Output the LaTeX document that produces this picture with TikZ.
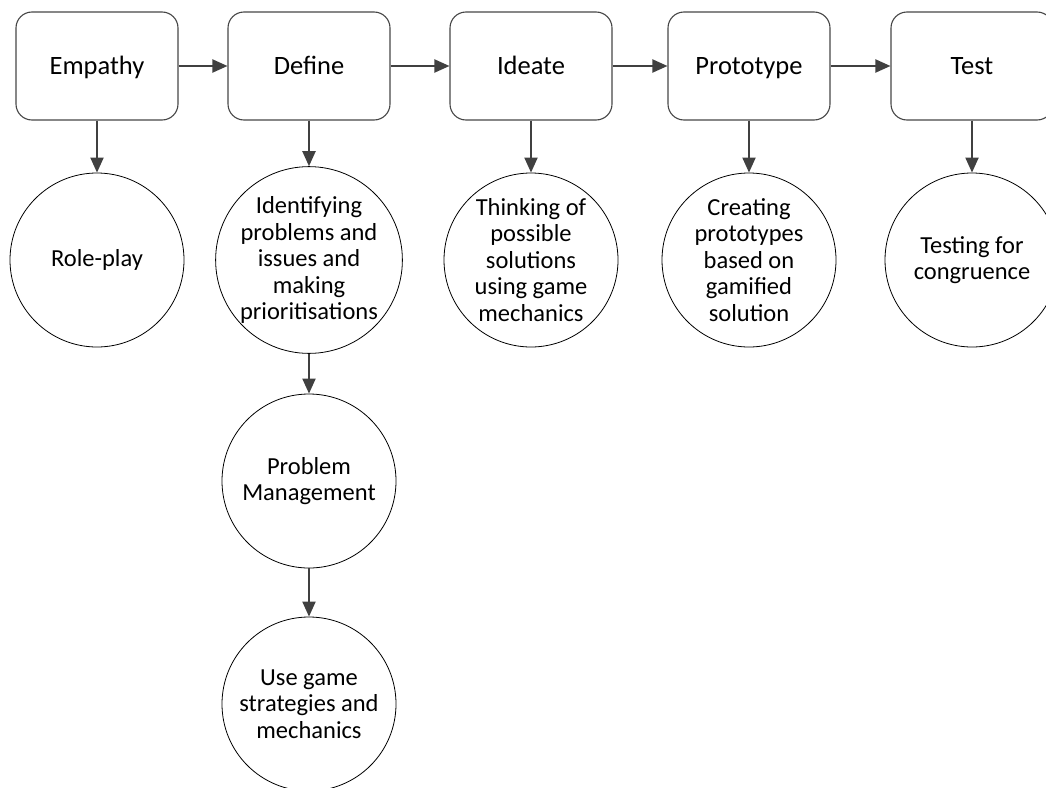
\documentclass[tikz,border=0pt]{standalone}
\usepackage{fontspec}
\setmainfont{Carlito}
\usetikzlibrary{arrows.meta, positioning}
\definecolor{darkline}{RGB}{64,64,64}
\definecolor{boxline}{RGB}{70,70,70}

\tikzset{
  stage/.style={draw=boxline, line width=1.1pt, rounded corners=16pt,
    minimum width=162pt, minimum height=108pt, text height=22pt, text depth=6pt,
    font=\fontsize{26.5}{31}\selectfont},
  activity/.style={draw=black, line width=0.8pt, circle, minimum size=174pt,
    inner sep=0pt, align=center, font=\fontsize{24.5}{26.5}\selectfont},
  flow/.style={-{Triangle[length=15pt,width=13pt]}, draw=darkline, line width=2pt}
}

\begin{document}
\begin{tikzpicture}[x=1pt, y=-1pt]
  \useasboundingbox (0,0) rectangle (1046,787);

  % design thinking stages
  \node[stage] (empathy) at (97,66) {Empathy};
  \node[stage] (define) at (309,66) {Define};
  \node[stage] (ideate) at (531,66) {Ideate};
  \node[stage] (proto) at (749,66) {Prototype};
  \node[stage] (test) at (972,66) {Test};

  % activities
  \node[activity] (roleplay) at (97,260) {Role-play};
  \node[activity] (identify) at (309,260) {Identifying\\problems and\\issues and\\making\\prioritisations};
  \node[activity] (thinking) at (531,260) {Thinking of\\possible\\solutions\\using game\\mechanics};
  \node[activity] (creating) at (749,260) {Creating\\prototypes\\based on\\gamified\\solution};
  \node[activity] (testing) at (972,260) {Testing for\\congruence};
  \node[activity] (problem) at (309,481) {Problem\\Management};
  \node[activity] (usegame) at (309,704) {Use game\\strategies and\\mechanics};

  \foreach \a/\b in {empathy/define, define/ideate, ideate/proto, proto/test}
    \draw[flow] (\a) -- (\b);
  \foreach \a/\b in {empathy/roleplay, define/identify, ideate/thinking, proto/creating,
                     test/testing, identify/problem, problem/usegame}
    \draw[flow] (\a) -- (\b);
\end{tikzpicture}
\end{document}
